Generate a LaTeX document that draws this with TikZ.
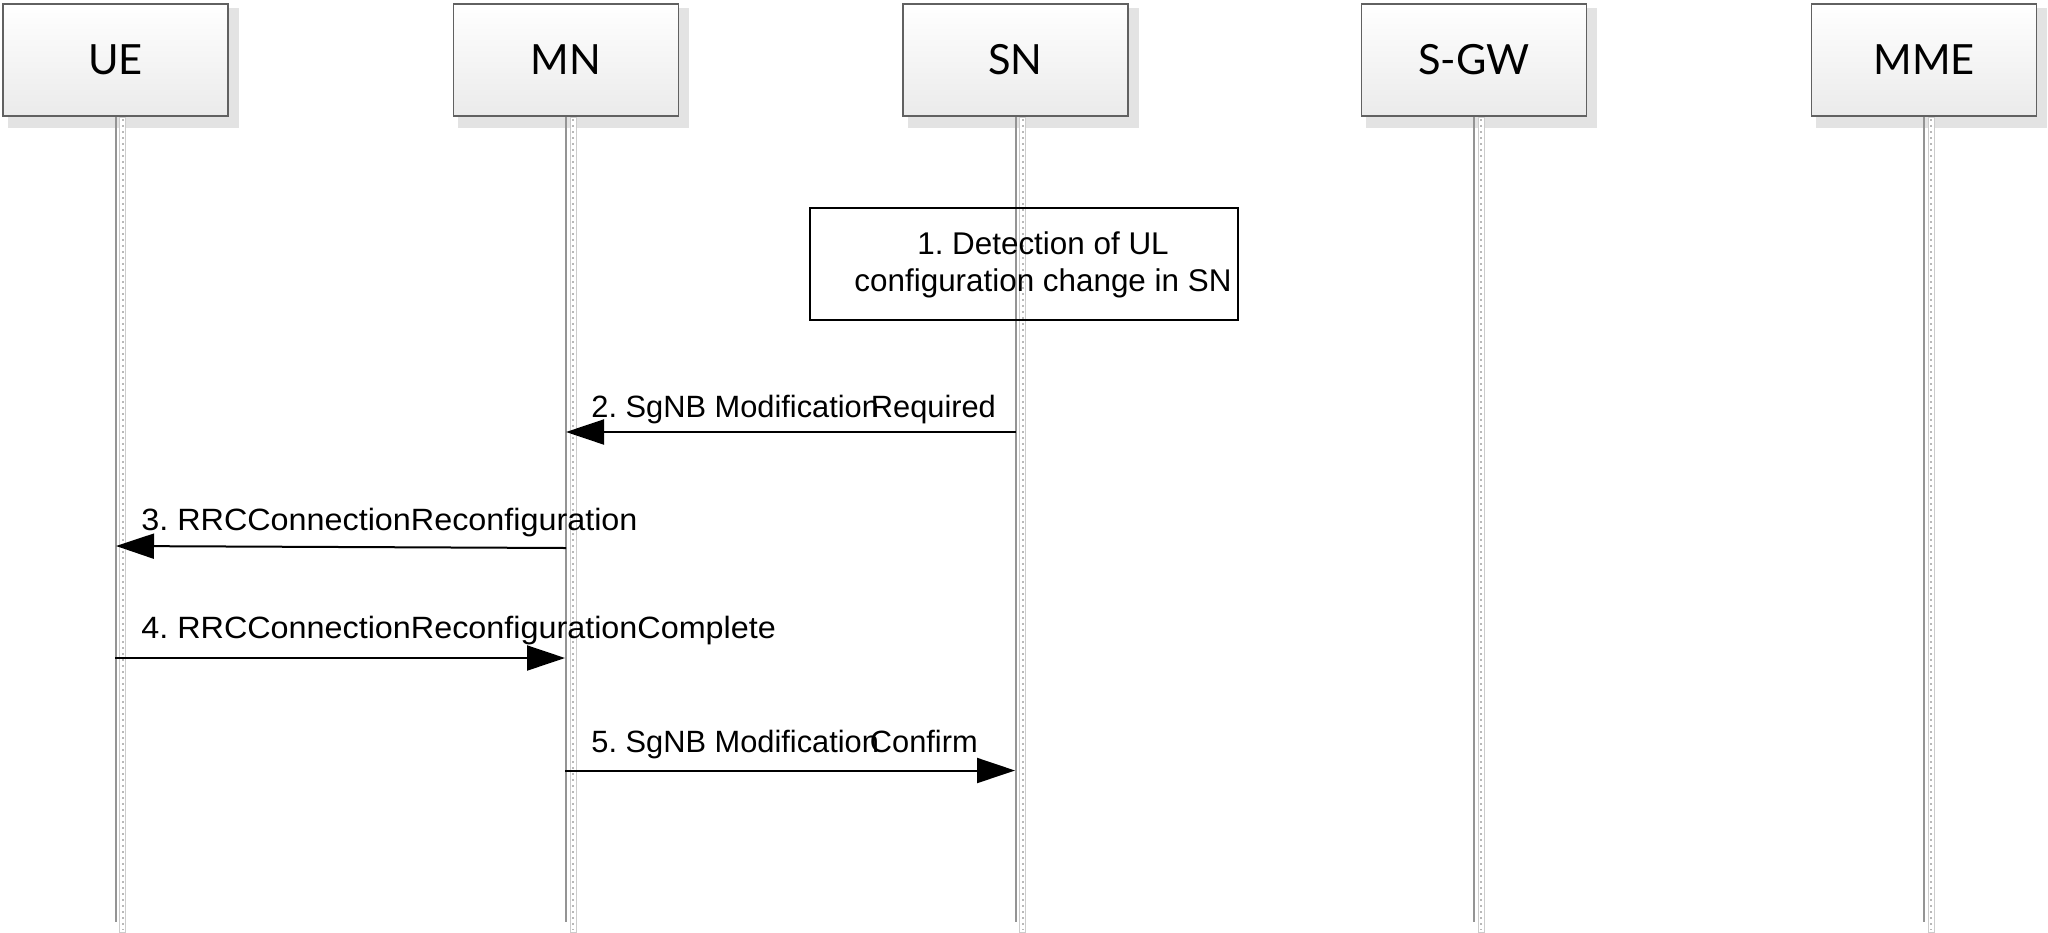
\documentclass[tikz,border=0pt]{standalone}
\usepackage{fontspec}
\usepackage{graphicx}
\setmainfont{Liberation Sans}
\newfontfamily\headfont{Lato}
\usetikzlibrary{arrows.meta}
\frenchspacing
\begin{document}
\begin{tikzpicture}[x=0.5pt,y=-0.5pt,
  entity/.style={draw=black!62, line width=0.75pt, top color=white, bottom color=black!8,
    minimum width=112.5pt, minimum height=56pt, inner sep=0pt,
    font=\headfont\fontsize{20.8}{24}\selectfont},
  boxshadow/.style={fill=black!11},
  lifeshadow/.style={draw=black!20, line width=0.35pt, fill=white},
  lifedots/.style={draw=black!28, line width=1pt, dash pattern=on 1pt off 2pt},
  life/.style={draw=black!42, line width=1pt},
  stepbox/.style={draw=black, line width=1pt, minimum width=214pt, minimum height=56pt, inner sep=0pt},
  steptext/.style={align=center, inner sep=0pt, font=\fontsize{15.7}{18.35}\selectfont},
  lbl/.style={inner sep=0pt, anchor=base west, font=\fontsize{15.4}{18}\selectfont},
  msg/.style={draw=black, line width=1pt, -{Triangle[length=19pt,width=12.5pt]}}]
\useasboundingbox (0,0) rectangle (2048,932);
% entities
\foreach \n/\lab/\x in {UE/UE/115.5, MN/MN/566, SN/SN/1015.5, SGW/S-GW/1474, MME/MME/1924} {
  \fill[boxshadow] (\x-108,8) rectangle (\x+123,128);
  \draw[lifeshadow] (\x+4,117) rectangle (\x+10,932);
  \draw[lifedots] (\x+7,119) -- (\x+7,930);
  \node[entity] (\n) at (\x,60) {\lab};
  \coordinate (\n-end) at (\x,922);
  \draw[life] (\n.south) -- (\n-end);
}
% step 1
\node[stepbox] (s1) at (1024,264) {};
\node[steptext] (s1t) at (1043,265) {1. Detection of UL\\configuration change in SN};
% message 2
\coordinate (m2a) at (1016,432);
\coordinate (m2b) at (566,432);
\draw[msg] (m2a) -- (m2b);
\node[lbl] (l2a) at (591,417) {2. SgNB Modification};
\node[lbl] (l2b) at (870.5,417) {Required};
% message 3
\coordinate (m3a) at (566,548);
\coordinate (m3b) at (116,546);
\draw[msg] (m3a) -- (m3b);
\node[lbl] (l3) at (141,530) {\scalebox{1.05}[1]{3. RRCConnectionReconfiguration}};
% message 4
\coordinate (m4a) at (115,658);
\coordinate (m4b) at (565,658);
\draw[msg] (m4a) -- (m4b);
\node[lbl] (l4) at (141,638) {\scalebox{1.05}[1]{4. RRCConnectionReconfigurationComplete}};
% message 5
\coordinate (m5a) at (565,770.5);
\coordinate (m5b) at (1015,770.5);
\draw[msg] (m5a) -- (m5b);
\node[lbl] (l5a) at (591,752) {5. SgNB Modification};
\node[lbl] (l5b) at (869.5,752) {Confirm};
\end{tikzpicture}
\end{document}
